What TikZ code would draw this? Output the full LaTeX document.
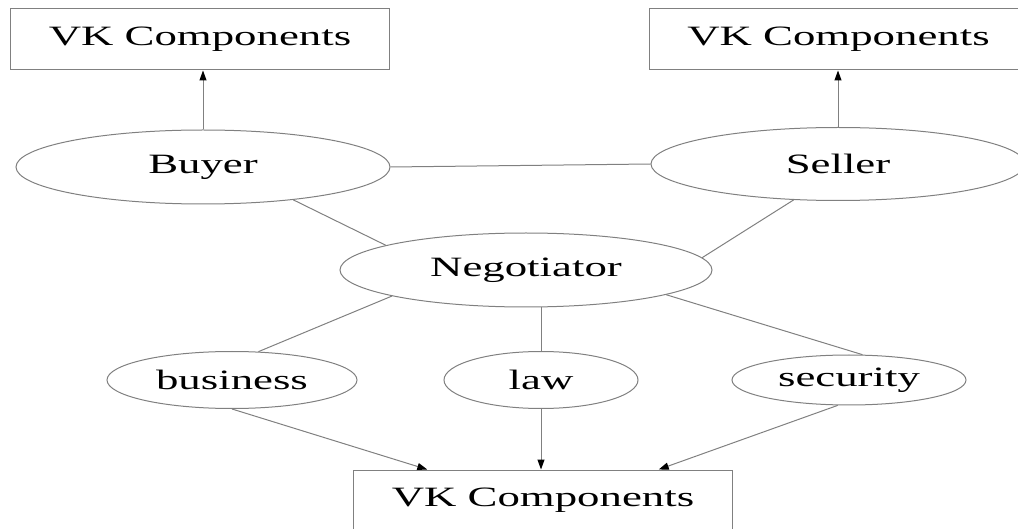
\documentclass[tikz,border=0pt]{standalone}
\usepackage{fontspec}
\setmainfont{Liberation Serif}
\usetikzlibrary{arrows.meta,shapes.geometric}
\newcommand{\widetext}[1]{\scalebox{1.6}[1]{#1}}
\tikzset{
    comp/.style={draw=gray, line width=1pt, minimum width=379pt, minimum height=61pt, inner sep=0pt},
    agent/.style={draw=gray, line width=1pt, ellipse, inner sep=0pt},
    link/.style={draw=gray, line width=1pt},
    uses/.style={link, -{Triangle[length=10pt,width=7pt,black]}}
}

\begin{document}
\begin{tikzpicture}[x=1pt, y=-1pt, font=\fontsize{28}{32}\selectfont]
    \useasboundingbox (0,0) rectangle (1018,529);

    \node[comp] (vkb) at (200, 39.5) {\widetext{VK Components}};
    \node[comp] (vks) at (838.5, 39.5) {\widetext{VK Components}};
    \node[comp] (vkn) at (543, 500.5) {\widetext{VK Components}};

    \node[agent, minimum width=374pt, minimum height=74pt] (buyer) at (203, 167) {\widetext{Buyer}};
    \node[agent, minimum width=374pt, minimum height=73pt] (seller) at (838, 164) {\widetext{Seller}};
    \node[agent, minimum width=372pt, minimum height=74pt] (neg) at (526, 270) {\widetext{Negotiator}};

    \node[agent, minimum width=250pt, minimum height=57pt] (business) at (232, 380) {\widetext{business}};
    \node[agent, minimum width=194pt, minimum height=57pt] (law) at (541, 380) {\widetext{law}};
    \node[agent, minimum width=234pt, minimum height=50pt] (security) at (849, 380) {\widetext{security}};

    \draw
    (buyer.north) edge[uses] (buyer.north |- vkb.south)
    (seller.north) edge[uses] (seller.north |- vks.south)
    (buyer.east) edge[link] (seller.west)
    (buyer.-20) edge[link] (neg.170)
    (seller.-141) edge[link] (neg.4)
    (neg.-169) edge[link] (business.47)
    (neg.south -| law.north) edge[link] (law.north)
    (neg.-10) edge[link] (security.62)
    (business.south) edge[uses] (vkn.165)
    (law.south) edge[uses] (law.south |- vkn.north)
    (security.-114) edge[uses] (vkn.15);
\end{tikzpicture}
\end{document}
